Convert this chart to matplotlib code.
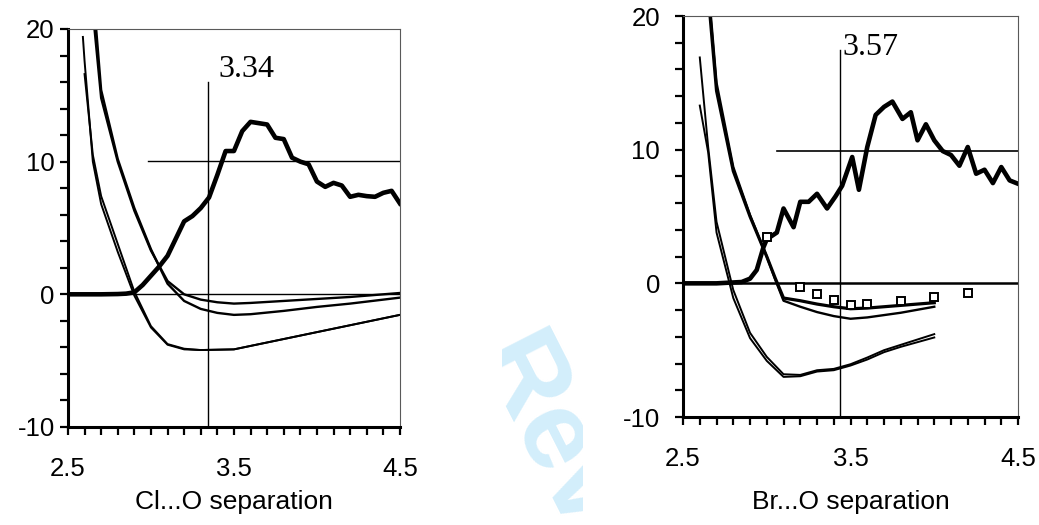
import matplotlib.pyplot as plt
from matplotlib.ticker import MultipleLocator, FixedLocator
from matplotlib.transforms import Bbox, TransformedBbox

plt.rcParams['font.family'] = ['Liberation Sans', 'DejaVu Sans']

# Cl...O panel: contact distribution and energy curves
cl_dist_x = [2.5, 2.6, 2.7, 2.8, 2.85, 2.9, 2.95, 3.0, 3.05, 3.1, 3.15, 3.2, 3.25,
             3.3, 3.35, 3.4, 3.45, 3.5, 3.55, 3.6, 3.65, 3.7, 3.75, 3.8, 3.85, 3.9,
             3.95, 4.0, 4.05, 4.1, 4.15, 4.2, 4.25, 4.3, 4.35, 4.4, 4.45, 4.5]
cl_dist_y = [0, 0, 0, 0.02, 0.05, 0.15, 0.7, 1.4, 2.1, 2.9, 4.2, 5.5, 5.9,
             6.5, 7.3, 9.0, 10.8, 10.8, 12.3, 13.0, 12.9, 12.8, 11.8, 11.7, 10.3, 10.0,
             9.8, 8.5, 8.1, 8.4, 8.2, 7.35, 7.5, 7.4, 7.35, 7.65, 7.8, 6.85]

cl_a_x = [2.66, 2.7, 2.8, 2.9, 3.0, 3.1, 3.2, 3.3, 3.4, 3.5, 3.6, 3.8, 4.0, 4.2, 4.5]
cl_a_y = [20.0, 14.8, 10.0, 6.3, 3.3, 1.0, 0.0, -0.4, -0.6, -0.7, -0.65, -0.5, -0.35, -0.2, 0.1]
cl_b_x = [2.67, 2.7, 2.8, 2.9, 3.0, 3.1, 3.2, 3.3, 3.4, 3.5, 3.6, 3.8, 4.0, 4.2, 4.5]
cl_b_y = [20.0, 15.4, 10.2, 6.5, 3.4, 0.8, -0.5, -1.1, -1.4, -1.55, -1.5, -1.25, -0.95, -0.7, -0.25]
cl_c_x = [2.59, 2.6, 2.65, 2.7, 2.8, 2.9, 3.0, 3.1, 3.2, 3.3, 3.5, 4.0, 4.5]
cl_c_y = [19.4, 17.6, 10.0, 6.8, 3.2, -0.1, -2.5, -3.8, -4.15, -4.2, -4.15, -2.85, -1.55]
cl_d_x = [2.6, 2.65, 2.7, 2.8, 2.9, 3.0, 3.1, 3.2, 3.3, 3.5, 4.0, 4.5]
cl_d_y = [16.6, 10.5, 7.4, 3.8, 0.2, -2.4, -3.75, -4.1, -4.2, -4.15, -2.85, -1.55]

# Br...O panel
br_dist_x = [2.5, 2.7, 2.85, 2.9, 2.94, 2.98, 3.0, 3.06, 3.1, 3.16, 3.2, 3.25, 3.3,
             3.36, 3.41, 3.45, 3.51, 3.55, 3.6, 3.65, 3.7, 3.75, 3.81, 3.86, 3.9,
             3.95, 4.0, 4.05, 4.1, 4.15, 4.2, 4.25, 4.3, 4.35, 4.4, 4.45, 4.5]
br_dist_y = [0.0, 0.0, 0.1, 0.35, 1.0, 2.7, 3.3, 3.8, 5.6, 4.2, 6.1, 6.1, 6.7,
             5.6, 6.5, 7.3, 9.45, 7.0, 10.2, 12.6, 13.2, 13.6, 12.3, 12.8, 10.7,
             11.9, 10.7, 9.9, 9.6, 8.8, 10.2, 8.2, 8.5, 7.5, 8.7, 7.7, 7.45]

br_a_x = [2.66, 2.7, 2.8, 2.9, 3.0, 3.05, 3.1, 3.2, 3.3, 3.4, 3.5, 3.6, 3.8, 4.0]
br_a_y = [20.2, 14.4, 8.4, 5.0, 2.0, 0.4, -1.1, -1.3, -1.55, -1.75, -1.9, -1.85, -1.65, -1.45]
br_b_x = [2.665, 2.7, 2.8, 2.9, 3.0, 3.05, 3.1, 3.2, 3.3, 3.4, 3.5, 3.6, 3.8, 4.0]
br_b_y = [20.2, 15.0, 8.7, 5.1, 2.0, 0.3, -1.3, -1.75, -2.15, -2.45, -2.65, -2.55, -2.2, -1.75]
br_c_x = [2.6, 2.65, 2.7, 2.8, 2.9, 3.0, 3.1, 3.2, 3.3, 3.4, 3.5, 3.6, 3.7, 3.8, 3.9, 4.0]
br_c_y = [16.9, 10.2, 4.6, -0.5, -3.7, -5.5, -6.8, -6.85, -6.5, -6.4, -6.05, -5.55, -5.0, -4.6, -4.2, -3.8]
br_d_x = [2.6, 2.65, 2.7, 2.8, 2.9, 3.0, 3.1, 3.2, 3.3, 3.4, 3.5, 3.6, 3.7, 3.8, 3.9, 4.0]
br_d_y = [13.3, 9.8, 3.8, -1.1, -4.1, -5.8, -7.0, -6.95, -6.6, -6.5, -6.15, -5.7, -5.15, -4.75, -4.4, -4.05]

br_sq_x = [3.0, 3.2, 3.3, 3.4, 3.5, 3.6, 3.8, 4.0, 4.2]
br_sq_y = [3.5, -0.3, -0.8, -1.25, -1.6, -1.55, -1.3, -1.05, -0.75]

x_ticks = [2.5, 3.5, 4.5]
x_labels = ['2.5', '3.5', '4.5']
y_ticks = [-10, 0, 10, 20]
y_labels = ['-10', '0', '10', '20']


def style_axes(ax, xlabel, label_y, ypad):
    ax.set_xlim(2.5, 4.5)
    ax.set_ylim(-10, 20)
    ax.xaxis.set_major_locator(FixedLocator(x_ticks))
    ax.set_xticklabels(x_labels)
    ax.xaxis.set_minor_locator(MultipleLocator(0.1))
    ax.yaxis.set_major_locator(FixedLocator(y_ticks))
    ax.set_yticklabels(y_labels)
    ax.yaxis.set_minor_locator(MultipleLocator(2))
    ax.tick_params(which='both', direction='out', length=5.5, width=1.6,
                   top=False, right=False)
    ax.tick_params(axis='x', which='major', labelsize=18.5, pad=16)
    ax.tick_params(axis='y', which='major', labelsize=18.5, pad=ypad)
    for side in ('left', 'bottom'):
        ax.spines[side].set_linewidth(2.2)
    for side in ('top', 'right'):
        ax.spines[side].set_linewidth(0.8)
        ax.spines[side].set_color('0.35')
    ax.set_xlabel(xlabel, fontsize=19, va='center')
    ax.xaxis.set_label_coords(0.5, label_y)


fig = plt.figure(figsize=(10.39, 5.25), dpi=100)

# watermark behind the panels, showing only in the gap between them
wm = fig.text(0.481, 0.342, 'Review', fontsize=80, fontweight='bold',
              color='#d3eefb', rotation=-63, rotation_mode='anchor',
              ha='left', va='center', zorder=0)
wm.set_clip_box(TransformedBbox(Bbox([[502 / 1039, 0], [583 / 1039, 1]]),
                                fig.transFigure))
wm.set_clip_on(True)

ax1 = fig.add_axes([0.0654, 0.1867, 0.3195, 0.7581])
ax1.axhline(0.05, color='black', lw=1.0)
ax1.plot([2.98, 4.5], [10.02, 10.02], color='black', lw=1.0)
ax1.plot([3.343, 3.343], [-10, 15.98], color='black', lw=1.0)
ax1.plot(cl_a_x, cl_a_y, color='black', lw=1.7)
ax1.plot(cl_b_x, cl_b_y, color='black', lw=1.7)
ax1.plot(cl_c_x, cl_c_y, color='black', lw=1.4)
ax1.plot(cl_d_x, cl_d_y, color='black', lw=1.4)
ax1.plot(cl_dist_x, cl_dist_y, color='black', lw=3.3, solid_joinstyle='round')
ax1.text(3.404, 16.4, '3.34', family='Liberation Serif', fontsize=23,
         ha='left', va='baseline')
style_axes(ax1, 'Cl...O separation', -0.188, 4)

ax2 = fig.add_axes([0.6574, 0.2057, 0.3224, 0.7638])
ax2.axhline(0.0, color='black', lw=1.8)
ax2.plot([3.06, 4.5], [9.93, 9.93], color='black', lw=1.2)
ax2.plot([3.437, 3.437], [-10, 17.46], color='black', lw=1.0)
ax2.plot(br_a_x, br_a_y, color='black', lw=2.3)
ax2.plot(br_b_x, br_b_y, color='black', lw=1.7)
ax2.plot(br_c_x, br_c_y, color='black', lw=1.4)
ax2.plot(br_d_x, br_d_y, color='black', lw=1.4)
ax2.plot(br_dist_x, br_dist_y, color='black', lw=3.3, solid_joinstyle='round')
ax2.plot(br_sq_x, br_sq_y, linestyle='none', marker='s', markersize=6,
         markerfacecolor='white', markeredgecolor='black', markeredgewidth=1.4)
ax2.text(3.45, 17.1, '3.57', family='Liberation Serif', fontsize=23,
         ha='left', va='baseline')
style_axes(ax2, 'Br...O separation', -0.212, 11)

fig.savefig('out.png', dpi=100)
